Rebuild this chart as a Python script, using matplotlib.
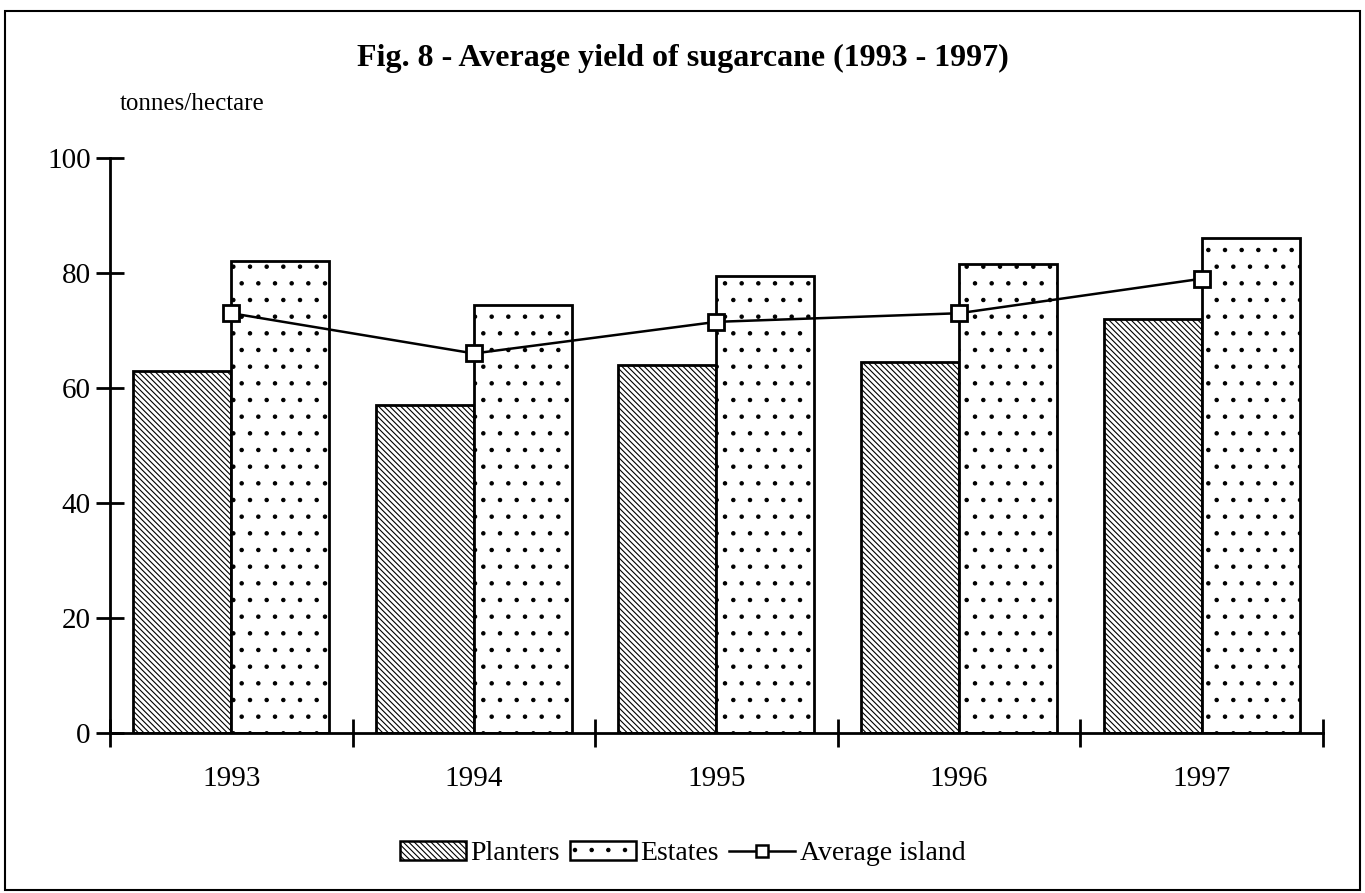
import numpy as np
import matplotlib
matplotlib.use('Agg')
import matplotlib.pyplot as plt
from matplotlib.patches import Rectangle
from matplotlib.lines import Line2D
from matplotlib.patches import Patch

years = ['1993', '1994', '1995', '1996', '1997']
planters = [63, 57, 64, 64.5, 72]
estates = [82, 74.5, 79.5, 81.5, 86]
average_island = [73, 66, 71.5, 73, 79]

plt.rcParams['font.family'] = ['Liberation Serif', 'DejaVu Serif']
plt.rcParams['hatch.linewidth'] = 0.8

fig = plt.figure(figsize=(13.65, 8.93), dpi=100)
ax = fig.add_axes([0.0806, 0.1792, 0.8886, 0.6439])

x = np.arange(len(years))
w = 0.404
ax.bar(x - w / 2, planters, w, color='white', edgecolor='black', hatch='\\\\\\\\\\\\',
       linewidth=2.0, label='Planters')
ax.bar(x + w / 2, estates, w, color='white', edgecolor='black', hatch='.',
       linewidth=2.0, label='Estates')
ax.plot(x, average_island, color='black', linewidth=1.8, marker='s', markersize=11,
        markerfacecolor='white', markeredgecolor='black', markeredgewidth=2.0,
        label='Average island')

ax.set_xlim(-0.5, 4.5)
ax.set_ylim(0, 100)
ax.set_yticks([0, 20, 40, 60, 80, 100])
ax.set_xticks(x)
ax.set_xticklabels(years)
ax.set_xticks(np.arange(-0.5, 5.0, 1.0), minor=True)
ax.tick_params(axis='y', direction='inout', length=20, width=2.0, labelsize=21, pad=4)
ax.tick_params(axis='x', which='major', length=0, labelsize=21, pad=24)
ax.tick_params(axis='x', which='minor', direction='inout', length=20, width=2.0)

for s in ['top', 'right']:
    ax.spines[s].set_visible(False)
for s in ['left', 'bottom']:
    ax.spines[s].set_linewidth(2.0)

fig.text(0.5, 0.934, 'Fig. 8 - Average yield of sugarcane (1993 - 1997)',
         ha='center', va='center', fontsize=23, fontweight='bold')
fig.text(0.088, 0.884, 'tonnes/hectare', ha='left', va='center', fontsize=18)

handles = [Patch(facecolor='white', edgecolor='black', hatch='\\\\\\\\\\\\', linewidth=1.8),
           Patch(facecolor='white', edgecolor='black', hatch='.', linewidth=1.8),
           Line2D([], [], color='black', linewidth=1.8, marker='s', markersize=9,
                  markerfacecolor='white', markeredgecolor='black', markeredgewidth=1.8)]
fig.legend(handles, ['Planters', 'Estates', 'Average island'], loc='center',
           bbox_to_anchor=(0.5, 0.044), ncol=3, frameon=False, fontsize=20,
           handlelength=2.4, handletextpad=0.15, columnspacing=0.35)

fig.patches.append(Rectangle((0.004, 0.003), 0.992, 0.985, transform=fig.transFigure,
                             fill=False, edgecolor='black', linewidth=1.5))

fig.savefig('out.png', dpi=100)
